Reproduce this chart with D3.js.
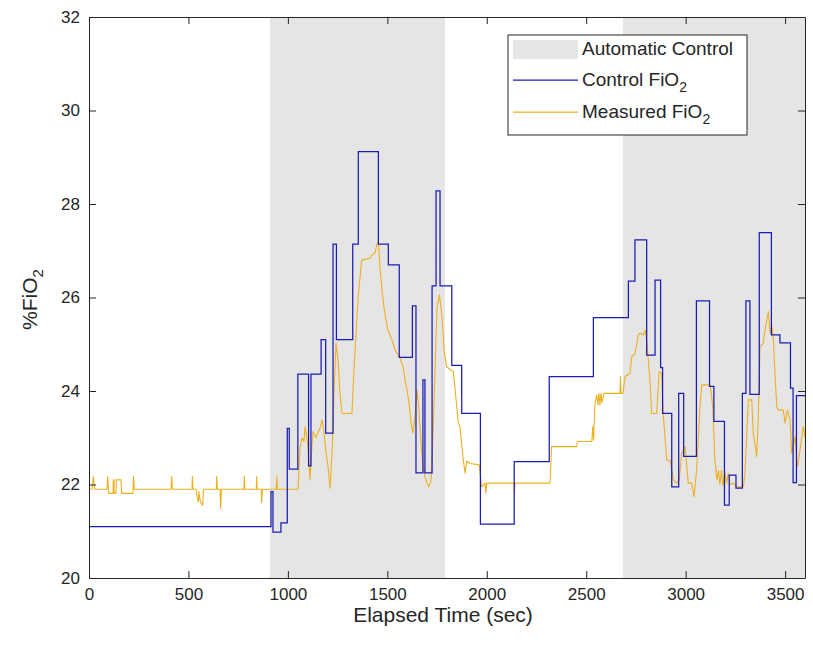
<!DOCTYPE html>
<html>
<head>
<meta charset="utf-8">
<script src="https://cdn.jsdelivr.net/npm/d3@7"></script>
<style>
  html, body { margin: 0; padding: 0; background: #ffffff; }
  svg { display: block; }
  text { font-family: "Liberation Sans", Arial, Helvetica, sans-serif; fill: #262626; }
</style>
</head>
<body>
<svg id="chart" width="813" height="652"></svg>
<script>
// ---------- data ----------
const xTicks = [0, 500, 1000, 1500, 2000, 2500, 3000, 3500];
const yTicks = [20, 22, 24, 26, 28, 30, 32];

// automatic control periods (sec)
const autoStart = [910, 2685];
const autoEnd   = [1790, 3600];

// Control FiO2 (step function: value holds until next time)
const controlTime = [0, 915, 925, 965, 997, 1007, 1050, 1104, 1116, 1167, 1190, 1227, 1244, 1326, 1354, 1455, 1505, 1560, 1626, 1644, 1679, 1689, 1725, 1745, 1765, 1824, 1874, 1968, 2138, 2314, 2536, 2712, 2745, 2804, 2846, 2874, 2884, 2930, 2965, 2990, 3054, 3120, 3142, 3195, 3219, 3253, 3285, 3303, 3323, 3370, 3431, 3474, 3527, 3540, 3557, 3600];
const controlValue = [21.1, 21.85, 20.98, 21.18, 23.2, 22.33, 24.36, 22.4, 24.36, 25.1, 23.1, 27.14, 25.1, 27.14, 29.12, 27.14, 26.7, 24.72, 25.82, 22.25, 24.24, 22.25, 26.25, 28.28, 26.25, 24.55, 23.52, 21.15, 22.49, 24.31, 25.57, 26.35, 27.23, 24.77, 26.37, 24.5, 23.52, 21.95, 23.95, 22.6, 25.93, 24.1, 23.35, 21.56, 22.2, 21.92, 23.95, 25.93, 23.93, 27.39, 25.2, 25.03, 24.06, 22.04, 23.9, 23.9];

// Measured FiO2
const measuredTime = [0, 15, 22, 28, 90, 94, 99, 121, 122, 126, 127, 136, 137, 161, 164, 221, 224, 228, 412, 416, 419, 518, 520, 523, 538, 543, 550, 553, 558, 563, 572, 576, 640, 642, 646, 659, 662, 666, 779, 781, 784, 841, 843, 846, 866, 868, 872, 942, 944, 947, 1051,
  1061, 1071, 1081, 1086, 1096, 1101, 1111, 1121, 1126, 1141, 1151, 1161, 1172, 1182, 1192, 1202, 1212, 1222, 1232, 1242, 1252, 1262, 1272, 1322, 1332, 1342, 1353, 1371, 1413, 1421, 1438, 1447, 1455, 1463, 1473, 1483, 1493, 1503, 1513, 1523, 1539, 1554, 1564, 1579, 1589, 1599, 1609, 1619, 1629, 1639, 1649, 1659, 1669, 1679, 1689, 1699, 1709, 1720, 1730, 1740, 1750, 1762, 1775, 1785, 1798, 1832, 1857, 1865, 1882, 1891, 1899, 1916, 1962, 1974, 1991, 1995, 2000, 2137, 2138, 2142, 2318, 2326, 2452, 2456, 2528, 2533, 2537, 2544, 2553, 2559, 2564, 2569, 2574, 2579, 2589, 2670, 2672, 2675, 2685,
  2695, 2720, 2729, 2745, 2762, 2770, 2787, 2796, 2804, 2820, 2829, 2854, 2867, 2879, 2888, 2905, 2921, 2938, 2955, 2968, 2980, 2997, 3013, 3030, 3042, 3055, 3072, 3081, 3122, 3131, 3137, 3147, 3157, 3165, 3172, 3180, 3187, 3197, 3206, 3214, 3223, 3240, 3257, 3290, 3298, 3315, 3332, 3340, 3357, 3365, 3374, 3390, 3399, 3416, 3424, 3433, 3441, 3449, 3458, 3466, 3491, 3500, 3511, 3525, 3533, 3550, 3562, 3575, 3591, 3600];
const measuredValue = [21.9, 21.9, 22.17, 21.9, 21.9, 22.17, 21.81, 21.81, 22.1, 22.1, 21.81, 21.81, 22.1, 22.1, 21.81, 21.81, 22.17, 21.9, 21.9, 22.17, 21.9, 21.9, 22.17, 21.9, 21.9, 21.75, 21.62, 21.85, 21.68, 21.6, 21.56, 21.9, 21.9, 22.17, 21.9, 21.9, 21.49, 21.9, 21.9, 22.17, 21.9, 21.9, 22.17, 21.9, 21.9, 21.61, 21.9, 21.9, 22.17, 21.9, 21.9,
  22.8, 23.0, 22.92, 23.24, 23.0, 22.8, 22.1, 22.82, 23.13, 23.0, 23.11, 23.2, 23.38, 23.1, 22.67, 22.38, 21.92, 22.67, 23.95, 25.02, 24.66, 23.95, 23.52, 23.52, 24.45, 25.17, 26.0, 26.8, 26.84, 26.9, 26.95, 27.13, 27.2, 26.66, 26.16, 25.8, 25.52, 25.3, 25.2, 25.1, 24.88, 24.77, 24.7, 24.52, 24.24, 24.02, 23.74, 23.31, 23.1, 23.45, 24.02, 23.59, 22.88, 22.45, 22.17, 22.03, 21.95, 22.1, 23.1, 24.52, 25.8, 26.05, 25.59, 24.88, 24.52, 24.41, 23.31, 23.24, 22.52, 22.24, 22.5, 22.45, 22.42, 21.95, 22.03, 21.82, 22.03, 22.03, 21.82, 22.03, 22.03, 22.81, 22.81, 22.92, 22.92, 23.24, 22.95, 23.74, 23.91, 23.7, 23.95, 23.7, 23.95, 23.75, 23.95, 23.95, 24.31, 23.95, 23.95,
  24.31, 24.38, 24.73, 24.8, 25.2, 25.24, 25.2, 25.3, 25.08, 24.24, 23.52, 23.52, 24.41, 24.38, 23.45, 22.52, 22.52, 22.1, 22.03, 22.1, 22.67, 22.81, 22.03, 22.03, 21.74, 22.31, 23.66, 24.13, 24.13, 23.88, 23.6, 22.52, 22.1, 22.3, 22.0, 22.3, 21.98, 22.25, 22.03, 22.24, 22.0, 22.03, 21.95, 21.95, 22.24, 23.81, 23.81, 23.1, 22.6, 23.4, 24.95, 25.02, 25.3, 25.7, 25.24, 25.38, 25.1, 24.38, 23.66, 23.59, 23.59, 23.31, 23.59, 23.38, 22.67, 23.02, 22.38, 22.74, 23.24, 23.0];

const legendLabels = ["Automatic Control", "Control FiO", "Measured FiO"];

// ---------- layout ----------
const W = 813, H = 652;
const plot = { left: 89, top: 17, right: 805, bottom: 578 };
const axisColor = "#262626";
const controlColor = "#1c1cb4";
const measuredColor = "#EDB120";
const shadeColor = "#e5e5e5";

const svg = d3.select("#chart");
svg.append("rect").attr("width", W).attr("height", H).attr("fill", "#fff");

const x = d3.scaleLinear().domain([0, 3600]).range([plot.left, plot.right]);
const y = d3.scaleLinear().domain([20, 32]).range([plot.bottom, plot.top]);

// shaded automatic periods
const periods = autoStart.map((s, i) => ({ s, e: autoEnd[i] }));
svg.append("g").selectAll("rect").data(periods).join("rect")
  .attr("x", d => x(d.s)).attr("width", d => x(d.e) - x(d.s))
  .attr("y", plot.top).attr("height", plot.bottom - plot.top)
  .attr("fill", shadeColor);

// clip
svg.append("clipPath").attr("id", "clip").append("rect")
  .attr("x", plot.left).attr("y", plot.top)
  .attr("width", plot.right - plot.left).attr("height", plot.bottom - plot.top);

const controlData = controlTime.map((t, i) => ({ t, v: controlValue[i] }));
const measuredData = measuredTime.map((t, i) => ({ t, v: measuredValue[i] }));

svg.append("path").datum(measuredData)
  .attr("clip-path", "url(#clip)")
  .attr("fill", "none").attr("stroke", measuredColor).attr("stroke-width", 1.1)
  .attr("stroke-linejoin", "round")
  .attr("d", d3.line().x(d => x(d.t)).y(d => y(d.v)));

svg.append("path").datum(controlData)
  .attr("clip-path", "url(#clip)")
  .attr("fill", "none").attr("stroke", controlColor).attr("stroke-width", 1.25)
  .attr("d", d3.line().curve(d3.curveStepAfter).x(d => x(d.t)).y(d => y(d.v)));

// ---------- axes ----------
function styleAxis(g) {
  g.selectAll("path.domain").attr("stroke", axisColor).attr("stroke-width", 1);
  g.selectAll(".tick line").attr("stroke", axisColor).attr("stroke-width", 1);
  g.selectAll(".tick text").attr("fill", axisColor)
    .style("font-family", '"Liberation Sans", Arial, sans-serif')
    .style("font-size", "17px");
}
const tickLen = 7;
const fmt = d3.format("d");
svg.append("g").attr("transform", `translate(0,${plot.bottom})`)
  .call(d3.axisBottom(x).tickValues(xTicks).tickFormat(fmt).tickSizeInner(-tickLen).tickSizeOuter(0).tickPadding(10))
  .call(styleAxis);
svg.append("g").attr("transform", `translate(0,${plot.top})`)
  .call(d3.axisTop(x).tickValues(xTicks).tickSizeInner(-tickLen).tickSizeOuter(0).tickFormat(""))
  .call(styleAxis);
svg.append("g").attr("transform", `translate(${plot.left},0)`)
  .call(d3.axisLeft(y).tickValues(yTicks).tickFormat(fmt).tickSizeInner(-tickLen).tickSizeOuter(0).tickPadding(9))
  .call(styleAxis);
svg.append("g").attr("transform", `translate(${plot.right},0)`)
  .call(d3.axisRight(y).tickValues(yTicks).tickSizeInner(-tickLen).tickSizeOuter(0).tickFormat(""))
  .call(styleAxis);

// axis labels
svg.append("text")
  .attr("x", (plot.left + plot.right) / 2 - 4).attr("y", 622)
  .attr("text-anchor", "middle").style("font-size", "21px")
  .text("Elapsed Time (sec)");

const yl = svg.append("text")
  .attr("transform", `translate(37,${(plot.top + plot.bottom) / 2 + 2}) rotate(-90)`)
  .attr("text-anchor", "middle").style("font-size", "21px");
yl.append("tspan").text("%FiO");
yl.append("tspan").attr("dy", 6).style("font-size", "15px").text("2");

// ---------- legend ----------
const lg = { x: 508, y: 35, w: 239, h: 100 };
const leg = svg.append("g");
leg.append("rect").attr("x", lg.x).attr("y", lg.y).attr("width", lg.w).attr("height", lg.h)
  .attr("fill", "#fff").attr("stroke", axisColor).attr("stroke-width", 1);
leg.append("rect").attr("x", 513).attr("y", 40).attr("width", 65).attr("height", 19).attr("fill", shadeColor);
leg.append("line").attr("x1", 513).attr("x2", 578).attr("y1", 80).attr("y2", 80)
  .attr("stroke", controlColor).attr("stroke-width", 1.25);
leg.append("line").attr("x1", 513).attr("x2", 578).attr("y1", 112).attr("y2", 112)
  .attr("stroke", measuredColor).attr("stroke-width", 1.25);
const rowsY = [55, 86, 118];
legendLabels.forEach((lab, i) => {
  const t = leg.append("text").attr("x", 582).attr("y", rowsY[i]).style("font-size", "19px");
  t.append("tspan").text(lab);
  if (i > 0) t.append("tspan").attr("dy", 6).style("font-size", "14px").text("2");
});
</script>
</body>
</html>
